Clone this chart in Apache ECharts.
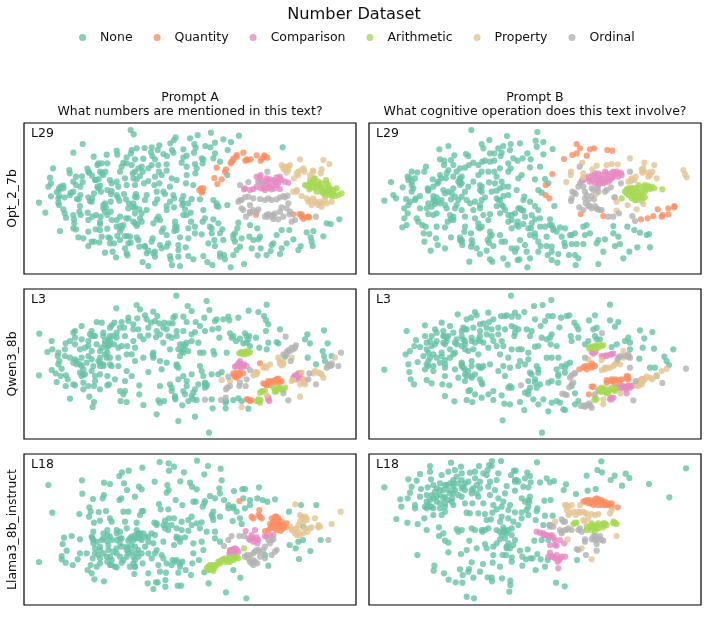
<!DOCTYPE html>
<html>
<head>
<meta charset="utf-8">
<style>html,body{margin:0;padding:0;background:#fff}#chart{width:708px;height:637px}</style>
<script src="https://cdn.jsdelivr.net/npm/echarts@6/dist/echarts.min.js"></script>
</head>
<body>
<div id="chart"></div>
<script>
// Number-dataset embeddings: one scatter panel per model (row) and prompt (column).
const categories = ['None','Quantity','Comparison','Arithmetic','Property','Ordinal'];
const palette = ['#66c2a5','#fc8d62','#e78ac3','#a6d854','#e5c494','#b3b3b3'];
const rowNames = ['Opt_2_7b','Qwen3_8b','Llama3_8b_instruct'];
const layerNames = ['L29','L3','L18'];
const columnTitles = ['Prompt A\nWhat numbers are mentioned in this text?','Prompt B\nWhat cognitive operation does this text involve?'];

// Opt_2_7b, Prompt A
const optANone=[[332,30],[341,43],[188,72],[467,52],[510,55],[533,45],[573,38],[657,47],[160,98],[610,58],[633,66],[585,68],[523,72],[556,78],[571,82],[788,82],[290,92],[335,90],[292,104],[221,110],[333,100],[320,112],[57,248],[76,278],[99,145],[90,173],[85,200],[93,190],[93,229],[110,216],[117,205],[122,200],[130,197],[118,228],[134,232],[115,248],[117,255],[130,268],[134,280],[138,293],[120,333],[148,150],[149,160],[150,225],[153,218],[168,170],[160,185],[168,195],[186,169],[188,186],[202,146],[207,158],[216,167],[181,200],[181,225],[171,237],[176,238],[205,232],[210,243],[180,258],[178,275],[182,285],[160,285],[162,298],[163,310],[160,325],[168,328],[205,300],[203,278],[217,290],[228,285],[242,290],[240,306],[240,313],[205,335],[227,328],[240,330],[262,326],[228,180],[236,177],[240,197],[235,205],[243,215],[232,200],[222,220],[217,235],[215,245],[255,250],[250,265],[258,262],[255,275],[272,275],[275,213],[273,222],[290,225],[293,232],[298,242],[312,222],[318,238],[325,265],[318,295],[340,262],[345,280],[345,310],[350,318],[300,318],[305,325],[275,300],[300,335],[260,104],[262,130],[256,155],[245,160],[240,155],[270,180],[275,190],[290,185],[295,200],[300,155],[305,140],[320,130],[310,128],[335,135],[338,160],[340,175],[345,155],[315,175],[320,195],[345,195],[348,222],[350,232],[327,250],[340,250],[345,262],[358,268],[365,280],[360,295],[352,312],[325,295],[290,320],[245,350],[265,352],[215,365],[205,378],[222,365],[238,367],[255,398],[270,370],[282,370],[278,395],[288,412],[292,348],[315,348],[322,348],[350,352],[355,360],[315,385],[325,370],[332,368],[322,406],[358,380],[375,378],[385,392],[395,365],[398,355],[380,400],[405,395],[405,410],[368,426],[385,438],[445,370],[450,408],[452,418],[456,435],[480,438],[475,375],[475,390],[497,382],[505,408],[520,418],[550,408],[562,426],[577,435],[565,370],[583,360],[585,378],[600,400],[612,405],[615,418],[632,442],[640,355],[645,365],[650,390],[672,432],[665,355],[688,350],[690,315],[712,325],[720,350],[715,358],[722,385],[713,406],[740,405],[752,393],[760,370],[755,375],[770,345],[785,330],[808,330],[820,358],[800,370],[785,385],[780,402],[835,390],[842,378],[860,337],[880,333],[872,352],[875,365],[878,378],[910,349],[920,310],[932,312],[958,298],[645,340],[652,325],[655,308],[350,85],[374,84],[395,82],[393,97],[413,90],[418,76],[451,70],[462,60],[456,90],[430,102],[441,108],[460,98],[397,108],[405,118],[370,116],[345,118],[365,140],[368,155],[355,145],[385,145],[395,135],[415,135],[440,133],[440,152],[425,165],[405,170],[417,155],[385,183],[372,190],[403,195],[418,190],[350,178],[360,168],[455,175],[470,180],[450,200],[430,215],[435,222],[410,215],[412,238],[405,250],[380,270],[375,240],[460,225],[463,235],[450,245],[440,258],[462,262],[415,290],[410,298],[400,310],[430,325],[425,335],[465,305],[470,320],[463,333],[440,345],[490,228],[485,240],[487,255],[495,268],[515,237],[540,238],[550,270],[500,285],[490,285],[512,278],[513,305],[505,325],[525,340],[545,343],[570,320],[580,298],[595,310],[607,328],[575,325],[610,360],[480,352],[505,355],[500,140],[485,128],[490,112],[500,107],[522,98],[525,132],[530,145],[526,160],[500,165],[498,190],[520,195],[545,115],[548,130],[550,118],[580,115],[585,100],[600,125],[623,90],[622,165],[590,250],[595,260],[622,255],[580,240],[590,258],[490,88],[527,83],[130,205],[118,210],[115,235],[160,215],[205,155],[235,130],[232,135],[245,130],[225,180],[250,165],[262,210],[272,245],[250,255],[262,285],[290,300],[300,290],[310,315],[340,305],[365,305],[380,225],[345,230],[440,270],[420,300],[465,320],[470,330],[505,250],[490,250],[525,320],[548,305],[555,295],[575,340],[640,345],[600,340],[660,380],[700,360],[695,385],[640,405],[600,410],[425,385],[400,400],[475,410],[420,375],[375,380],[330,350],[270,355],[190,355],[175,352],[300,360],[320,400],[440,380]];
const optAQuantity=[[543,205],[548,213],[538,210],[550,205],[545,218],[583,174],[605,178],[592,192],[590,143],[618,148],[615,155],[632,130],[640,116],[650,110],[670,98],[676,122],[684,120],[692,118],[710,106],[722,122],[733,106],[742,113],[727,115],[820,283],[838,282],[845,290],[850,296],[865,290],[868,292],[708,284],[640,120],[635,125],[650,105],[680,118],[735,110],[855,292],[845,283]];
const optAComparison=[[710,170],[722,165],[725,180],[742,182],[750,178],[770,172],[778,178],[765,185],[805,188],[722,205],[700,207],[672,208],[735,195],[745,205],[755,208],[780,207],[735,210],[760,195],[690,210],[775,190],[715,185],[730,190],[745,190],[760,180],[770,195],[750,200],[740,175],[785,180],[795,185],[675,205],[710,200],[730,205],[765,205],[720,172],[780,170]];
const optAArithmetic=[[855,195],[870,180],[885,175],[880,190],[872,203],[868,208],[890,215],[905,190],[918,180],[925,195],[915,205],[910,220],[925,225],[935,218],[950,205],[965,220],[945,228],[930,212],[900,200],[860,197],[880,185],[920,215],[865,195],[875,195],[885,205],[895,185],[895,195],[905,205],[920,190],[930,205],[940,210],[955,225],[935,228],[915,228],[880,175],[870,190],[905,215],[925,210],[890,200],[940,220]];
const optAProperty=[[785,135],[795,140],[810,135],[795,150],[800,158],[840,118],[850,145],[830,160],[822,175],[853,155],[878,152],[870,165],[905,148],[902,160],[910,120],[928,132],[820,215],[830,210],[845,228],[865,245],[880,235],[890,250],[905,250],[920,250],[935,245],[875,255],[790,145],[805,150],[835,165],[845,150],[880,155],[830,215],[870,240],[885,245],[900,245],[915,240],[860,235],[895,255],[905,260],[835,155],[805,140]];
const optAOrdinal=[[655,245],[665,240],[660,195],[685,186],[742,155],[722,188],[685,230],[700,235],[720,237],[745,235],[755,240],[780,232],[790,228],[803,227],[805,250],[785,262],[780,275],[810,275],[808,283],[745,290],[740,285],[757,285],[760,297],[775,298],[790,290],[815,305],[825,300],[888,290],[665,265],[690,255],[715,268],[690,280],[678,290],[690,275],[660,240],[675,232],[735,240],[770,238],[795,232],[800,265],[760,290],[735,290],[670,270],[700,270],[710,275],[745,282],[765,280]];

// Opt_2_7b, Prompt B
const optBNone=[[319,30],[426,48],[517,36],[512,62],[535,66],[465,70],[437,72],[373,60],[350,72],[355,85],[250,78],[223,88],[415,78],[400,85],[388,100],[375,100],[410,98],[407,108],[435,90],[487,100],[497,118],[535,103],[515,80],[563,87],[473,115],[458,122],[445,115],[268,106],[225,118],[238,122],[258,120],[303,102],[310,108],[237,135],[265,135],[285,145],[300,143],[312,135],[325,128],[340,135],[352,125],[360,122],[375,125],[388,122],[388,155],[405,145],[430,130],[437,145],[430,155],[460,175],[470,165],[495,142],[525,140],[510,178],[540,177],[520,210],[530,218],[183,140],[178,155],[140,155],[157,157],[128,170],[135,175],[140,185],[78,186],[113,202],[140,195],[145,205],[140,215],[85,225],[93,235],[58,242],[123,237],[135,245],[152,235],[165,228],[188,205],[190,212],[220,185],[228,175],[225,165],[250,150],[245,160],[290,170],[285,180],[290,190],[285,195],[203,178],[218,190],[242,175],[265,205],[260,220],[258,238],[205,228],[208,243],[210,252],[190,250],[130,255],[118,265],[128,280],[118,295],[125,315],[112,322],[155,295],[160,305],[172,315],[182,320],[190,282],[205,285],[215,280],[240,255],[245,265],[265,290],[258,298],[248,305],[240,322],[215,320],[176,340],[193,342],[178,365],[213,355],[218,375],[197,392],[240,385],[258,352],[285,352],[290,365],[292,375],[300,320],[298,335],[318,340],[322,370],[318,380],[335,385],[345,402],[313,425],[365,392],[375,418],[382,425],[428,434],[415,415],[458,420],[463,418],[487,442],[375,335],[380,345],[368,360],[372,368],[385,378],[405,345],[410,365],[420,365],[440,385],[450,395],[465,360],[480,375],[485,395],[495,415],[510,350],[495,345],[520,365],[527,378],[545,378],[545,350],[548,405],[560,380],[560,420],[580,402],[577,428],[600,378],[590,350],[598,368],[612,405],[620,372],[635,372],[630,405],[632,435],[640,415],[655,372],[660,345],[675,340],[700,360],[720,358],[700,432],[715,395],[750,378],[765,372],[760,350],[745,318],[745,340],[787,320],[808,330],[825,338],[845,345],[852,342],[817,382],[855,382],[793,395],[775,415],[655,320],[665,315],[615,345],[630,340],[600,325],[585,322],[565,325],[555,315],[555,298],[568,258],[520,270],[510,258],[495,245],[478,230],[475,240],[465,265],[475,272],[480,290],[510,298],[525,295],[500,285],[490,325],[475,312],[460,320],[440,325],[430,305],[440,285],[450,280],[420,270],[405,280],[395,258],[400,240],[415,228],[430,225],[395,212],[405,205],[380,215],[372,187],[390,190],[350,200],[345,210],[360,232],[350,240],[345,255],[330,245],[315,250],[325,270],[345,265],[355,285],[375,282],[330,295],[350,320],[340,322],[370,300],[300,290],[290,270],[275,255],[255,285],[215,232],[305,240],[310,200],[300,215],[325,185],[340,165],[350,155],[370,155],[395,170],[410,185],[430,200],[455,210],[550,190],[560,315],[575,335],[540,320],[525,320],[498,325],[510,340],[458,305],[415,200],[290,230],[280,240],[270,265],[240,220],[230,240],[150,240],[165,265],[185,265],[200,260],[235,210],[205,200],[190,210],[265,170],[275,155],[130,180],[150,175],[205,240],[215,245],[250,215],[270,230],[285,185],[285,175],[280,185],[395,235],[415,260],[470,270],[455,315],[375,350],[290,360],[285,360],[405,240],[410,255],[440,300],[430,285],[345,195],[350,215],[265,300],[225,250],[340,310],[345,325],[460,265],[500,310],[565,330],[620,345],[695,370],[560,395],[520,395],[455,385],[320,360]];
const optBQuantity=[[635,72],[645,85],[622,105],[635,100],[665,107],[675,88],[688,85],[727,90],[742,92],[597,117],[562,162],[542,195],[542,225],[553,235],[647,282],[715,288],[828,298],[848,295],[865,288],[878,268],[890,290],[893,285],[910,283],[910,265],[928,258],[928,262]];
const optBComparison=[[650,182],[665,175],[682,165],[690,172],[700,160],[712,175],[720,155],[730,168],[745,155],[755,155],[770,165],[690,190],[705,190],[720,185],[735,180],[745,170],[760,160],[655,180],[670,170],[680,180],[695,180],[700,175],[710,165],[715,190],[725,175],[730,185],[740,160],[750,165],[760,170],[725,160],[690,160],[705,180],[675,185],[740,175],[768,158],[700,195]];
const optBArithmetic=[[770,235],[780,215],[790,205],[800,203],[810,205],[820,195],[835,200],[850,198],[855,207],[868,205],[892,208],[790,225],[800,235],[815,240],[830,235],[840,232],[840,215],[825,220],[805,220],[785,220],[795,215],[800,228],[810,230],[820,228],[830,225],[835,210],[845,205],[820,205],[815,215],[785,208],[860,200],[830,242],[800,210],[810,240],[840,195]];
const optBProperty=[[652,128],[618,155],[617,165],[604,186],[655,160],[655,172],[682,148],[695,137],[725,135],[740,132],[758,133],[795,115],[838,128],[868,135],[830,148],[832,158],[850,158],[862,155],[875,175],[850,170],[800,175],[790,185],[808,180],[955,150],[960,162],[965,172],[693,222],[750,232],[755,245],[788,255],[815,268],[835,252],[755,272],[798,183],[812,170],[855,165],[835,155],[835,145]];
const optBOrdinal=[[644,140],[795,155],[768,190],[645,190],[655,200],[660,215],[622,215],[632,222],[618,243],[660,235],[662,250],[643,262],[680,205],[698,205],[680,228],[687,238],[720,215],[738,202],[748,232],[670,258],[690,258],[698,268],[710,270],[730,290],[745,290],[762,280],[802,288],[810,303],[655,270],[628,218],[640,200],[665,225],[670,240],[675,258],[680,265],[695,265],[705,270],[685,210],[700,215],[725,210],[620,235]];

// Qwen3_8b, Prompt A
const qwenANone=[[469,29],[560,45],[740,56],[503,60],[515,75],[568,72],[350,57],[360,70],[289,67],[400,77],[686,74],[715,78],[732,90],[738,103],[745,115],[375,88],[412,90],[405,105],[393,110],[380,100],[352,97],[325,95],[325,105],[305,108],[283,110],[230,108],[245,110],[185,120],[165,135],[160,140],[215,135],[270,125],[275,118],[312,125],[340,115],[355,130],[385,125],[418,112],[433,110],[447,112],[460,95],[465,90],[490,92],[500,108],[527,108],[553,95],[590,100],[610,100],[625,92],[628,103],[655,95],[585,105],[577,130],[595,127],[540,120],[490,135],[470,135],[458,112],[408,153],[420,145],[445,150],[455,155],[470,150],[515,145],[525,138],[555,135],[630,142],[635,155],[660,158],[675,142],[688,150],[738,135],[708,155],[770,168],[780,130],[775,172],[862,145],[855,160],[870,172],[912,133],[923,172],[598,155],[648,165],[670,172],[680,170],[690,180],[718,185],[745,170],[740,190],[908,195],[912,210],[915,225],[935,210],[863,215],[888,235],[795,212],[58,143],[95,165],[137,172],[82,198],[97,190],[115,200],[113,210],[118,225],[115,235],[125,248],[95,252],[107,262],[57,268],[122,270],[138,268],[143,280],[110,288],[137,300],[160,295],[165,298],[190,290],[205,300],[222,300],[240,310],[262,298],[267,295],[190,310],[150,338],[208,332],[222,348],[218,363],[302,345],[320,348],[300,315],[315,315],[310,325],[358,325],[358,298],[370,357],[415,343],[420,350],[432,345],[410,385],[475,405],[525,392],[567,440],[466,340],[487,358],[505,345],[520,320],[525,310],[515,330],[490,315],[495,325],[450,295],[455,305],[455,315],[420,300],[385,258],[370,215],[345,225],[335,205],[322,180],[305,180],[295,185],[282,175],[270,165],[255,175],[262,200],[270,215],[295,215],[320,205],[345,185],[370,160],[360,150],[340,165],[315,150],[290,140],[270,150],[250,140],[222,150],[205,165],[185,160],[165,155],[150,165],[165,175],[135,190],[135,210],[150,215],[165,220],[170,235],[185,240],[200,230],[215,220],[235,225],[250,235],[275,240],[295,240],[320,255],[335,270],[315,285],[285,280],[262,270],[225,270],[215,255],[190,265],[225,285],[180,190],[195,185],[215,195],[230,175],[398,205],[400,215],[420,225],[425,250],[440,230],[470,235],[475,245],[490,270],[500,285],[515,265],[540,240],[545,255],[550,270],[555,290],[560,300],[575,265],[595,265],[605,258],[535,295],[555,305],[480,175],[490,175],[500,170],[515,165],[535,170],[540,200],[550,200],[580,195],[583,205],[620,200],[430,170],[450,190],[475,190],[490,200],[480,210],[505,195],[475,280],[575,340],[578,367],[617,367],[617,350],[640,342],[655,337],[665,345],[685,368],[618,345],[530,342],[410,135],[430,125],[440,130],[385,148],[340,130],[300,125],[255,165],[210,145],[250,150],[265,180],[240,195],[205,210],[220,240],[240,240],[260,215],[290,155],[215,150],[205,180],[190,250],[180,235],[170,225],[240,215],[255,205],[270,175],[260,185],[265,160],[280,150],[245,185],[225,150],[160,230],[185,215],[195,265],[240,230],[250,240],[240,265],[270,235],[400,200],[400,210],[470,240],[490,190],[495,180],[485,195],[500,300],[555,295],[560,295],[465,330],[465,335],[520,340],[640,150],[680,150],[685,160],[180,260],[185,270]];
const qwenAQuantity=[[720,232],[640,262],[650,260],[660,258],[670,262],[645,272],[655,270],[735,295],[745,290],[755,285],[765,282],[775,278],[785,285],[750,297],[770,288],[685,340],[695,342],[840,262],[642,268],[650,275],[660,265],[730,292],[740,298],[760,290],[770,280],[780,290],[745,285],[690,345],[680,340],[655,265]];
const qwenAComparison=[[660,225],[665,235],[650,240],[670,240],[680,240],[645,242],[825,268],[835,262],[830,280],[820,275],[840,272],[745,335],[748,345],[845,278],[655,232],[665,245],[672,235],[660,240],[825,275],[832,272],[835,268],[745,340]];
const qwenAArithmetic=[[662,200],[672,200],[682,198],[690,198],[668,205],[760,305],[770,315],[780,307],[795,305],[720,320],[735,315],[715,345],[720,350],[710,345],[770,310],[665,198],[675,205],[685,202],[680,195],[658,202],[765,312],[775,305],[785,310],[790,312],[725,317],[715,340],[722,342],[728,315],[765,318]];
const qwenAProperty=[[605,282],[630,285],[735,240],[750,235],[705,258],[710,265],[700,268],[775,215],[780,225],[790,235],[815,215],[895,260],[880,262],[905,265],[910,275],[945,215],[850,290],[855,295],[815,285],[845,260],[840,332],[665,363],[740,328],[885,255],[855,285],[850,280],[840,295],[900,262],[780,232],[785,238],[790,228],[820,282],[740,245],[730,245],[712,258]];
const qwenAOrdinal=[[797,152],[820,190],[810,195],[828,178],[800,198],[790,205],[812,225],[690,252],[622,305],[630,300],[625,272],[680,280],[660,290],[658,300],[677,300],[555,341],[603,342],[617,335],[805,343],[790,322],[868,262],[865,280],[888,295],[925,235],[935,232],[930,240],[955,240],[963,200],[920,245],[815,185],[805,192],[825,185],[800,205],[935,238],[925,240],[618,310]];

// Qwen3_8b, Prompt B
const qwenBNone=[[438,29],[559,42],[507,60],[533,57],[735,56],[370,80],[330,78],[278,85],[180,118],[125,135],[230,110],[255,120],[305,100],[318,95],[335,88],[345,115],[355,112],[372,108],[385,100],[408,90],[420,90],[425,88],[450,80],[478,78],[440,92],[460,92],[510,100],[540,105],[550,90],[563,90],[588,95],[605,90],[613,88],[690,88],[672,103],[735,103],[760,108],[750,122],[628,110],[635,120],[640,130],[583,124],[527,120],[485,130],[500,135],[460,130],[450,140],[448,150],[420,130],[400,125],[380,130],[365,125],[345,135],[325,125],[295,125],[290,135],[265,140],[250,150],[210,130],[215,140],[200,150],[180,150],[153,162],[148,180],[135,195],[122,205],[165,183],[185,170],[200,180],[215,165],[238,150],[245,165],[275,160],[295,160],[300,175],[320,155],[340,160],[355,170],[385,165],[410,165],[415,180],[440,190],[470,190],[510,182],[520,180],[557,175],[575,180],[617,150],[620,165],[640,155],[660,175],[685,130],[695,125],[695,160],[705,160],[740,183],[755,175],[780,165],[790,155],[795,170],[795,190],[825,133],[862,138],[838,157],[833,185],[867,188],[925,190],[898,212],[905,225],[912,237],[823,218],[855,245],[870,245],[875,270],[58,251],[130,235],[133,258],[137,280],[147,295],[158,228],[175,210],[185,235],[190,225],[180,250],[205,240],[205,255],[185,282],[200,292],[232,295],[253,298],[240,222],[230,200],[255,215],[270,200],[290,230],[295,245],[300,265],[320,275],[345,280],[352,295],[310,315],[315,312],[330,325],[305,342],[322,348],[350,335],[370,325],[240,330],[268,346],[385,315],[385,342],[410,328],[418,353],[435,355],[413,403],[531,440],[478,372],[550,376],[465,348],[480,320],[490,325],[505,340],[520,355],[535,340],[560,350],[575,345],[585,350],[595,370],[600,372],[630,322],[640,345],[630,355],[525,295],[515,305],[495,305],[490,285],[430,305],[440,305],[420,270],[400,255],[415,240],[435,245],[460,240],[465,225],[490,220],[495,260],[500,265],[510,280],[520,260],[550,290],[560,285],[580,270],[590,240],[605,235],[615,230],[575,250],[580,215],[545,215],[560,215],[515,240],[490,200],[480,235],[355,240],[345,245],[350,290],[330,265],[310,255],[290,235],[270,250],[240,245],[215,215],[205,205],[225,230],[255,190],[275,175],[325,190],[340,205],[370,185],[395,180],[405,205],[375,235],[320,225],[310,195],[265,205],[190,200],[240,270],[280,275],[300,285],[460,190],[430,215],[530,155],[545,160],[560,145],[495,150],[440,120],[400,145],[345,150],[305,130],[235,135],[240,175],[185,190],[210,175],[620,300],[600,260],[580,290],[690,150],[670,165],[230,210],[240,235],[195,215],[190,240],[290,240],[300,250],[305,270],[320,270],[345,165],[300,165],[270,170],[300,190],[290,150],[245,155],[235,170],[235,150],[195,165],[320,165],[330,170],[365,145],[380,150],[450,125],[555,155],[600,245],[580,265],[520,250],[510,290],[490,315],[435,300],[300,130],[290,180],[340,240],[320,240],[350,245]];
const qwenBQuantity=[[643,250],[660,240],[665,250],[680,232],[690,240],[680,245],[725,282],[735,285],[750,280],[765,285],[785,270],[790,280],[830,280],[685,302],[672,325],[790,300],[750,295],[655,245],[670,240],[685,238],[745,285],[770,280],[760,282],[785,278],[725,290],[740,280],[790,272],[680,302]];
const qwenBComparison=[[680,198],[692,198],[710,210],[722,208],[735,206],[740,204],[760,305],[775,300],[790,298],[800,300],[770,308],[785,322],[737,335],[745,335],[685,203],[715,212],[725,210],[745,203],[765,300],[780,305],[795,305],[770,302],[785,310],[805,298],[740,340],[735,340]];
const qwenBArithmetic=[[675,183],[690,180],[705,178],[715,177],[682,182],[700,310],[715,315],[725,310],[740,305],[750,315],[710,305],[690,335],[695,340],[730,320],[680,185],[695,178],[710,180],[700,185],[672,187],[690,185],[700,315],[708,318],[720,318],[735,312],[745,310],[752,308],[715,308],[725,322],[688,342]];
const qwenBProperty=[[670,220],[710,252],[720,250],[735,245],[750,235],[765,235],[775,195],[775,215],[710,222],[815,290],[825,295],[835,285],[845,272],[862,280],[875,268],[905,248],[715,340],[715,355],[767,322],[820,300],[835,278],[890,255],[725,245],[745,240],[755,230],[820,285],[815,298],[830,290],[840,280],[855,275],[830,295],[720,245]];
const qwenBOrdinal=[[711,141],[660,215],[758,220],[765,210],[790,205],[795,215],[795,245],[780,210],[630,262],[615,275],[625,290],[613,304],[592,323],[605,327],[468,298],[648,360],[660,362],[672,352],[680,365],[665,358],[805,343],[892,291],[963,248],[812,285],[690,325],[620,268],[628,262],[620,295],[655,358],[675,358],[790,212],[760,215],[600,325]];

// Llama3_8b_instruct, Prompt A
const llamaANone=[[419,36],[446,40],[462,50],[447,62],[367,53],[531,32],[564,48],[602,56],[492,67],[553,73],[326,62],[306,67],[298,78],[85,105],[186,91],[252,98],[270,102],[312,100],[404,95],[481,94],[510,98],[516,110],[605,91],[598,115],[357,110],[365,118],[321,120],[345,140],[187,131],[252,135],[248,145],[219,147],[298,150],[304,145],[442,105],[440,128],[446,120],[530,118],[600,130],[570,138],[585,145],[612,150],[642,123],[667,117],[675,117],[717,112],[670,145],[625,165],[625,175],[640,175],[650,185],[690,150],[690,165],[675,175],[712,145],[728,150],[742,155],[765,148],[520,155],[527,155],[555,153],[548,170],[553,160],[467,150],[487,165],[417,162],[422,178],[445,178],[97,188],[178,192],[208,172],[212,185],[207,200],[236,186],[258,183],[310,185],[325,185],[365,183],[370,183],[360,195],[580,185],[578,200],[600,200],[580,210],[515,200],[505,210],[638,213],[660,205],[665,222],[240,212],[222,218],[270,205],[275,215],[315,215],[320,235],[350,218],[403,218],[410,220],[435,212],[447,205],[462,205],[485,215],[515,225],[530,220],[545,217],[540,235],[560,245],[585,245],[585,265],[600,275],[220,245],[262,240],[250,250],[290,240],[300,245],[350,240],[355,250],[375,260],[395,250],[405,255],[435,235],[445,240],[470,235],[485,240],[505,242],[132,263],[155,258],[180,268],[128,282],[140,302],[217,265],[220,280],[225,295],[240,290],[260,272],[265,285],[290,270],[305,265],[325,272],[345,255],[365,270],[385,275],[430,275],[462,285],[470,260],[480,275],[495,262],[520,280],[545,275],[550,300],[520,310],[410,300],[405,310],[425,315],[385,310],[345,290],[320,300],[290,295],[200,310],[180,310],[173,328],[125,318],[125,328],[137,338],[158,345],[57,336],[218,325],[240,325],[260,320],[275,330],[300,320],[325,310],[365,310],[395,325],[430,325],[458,330],[470,330],[487,335],[517,340],[537,330],[212,345],[203,360],[230,350],[240,340],[270,345],[290,352],[305,338],[330,350],[345,350],[368,340],[415,345],[440,340],[455,345],[480,350],[497,360],[215,370],[223,388],[252,394],[343,372],[385,370],[420,365],[438,368],[475,368],[513,375],[553,367],[383,400],[408,397],[413,397],[436,390],[436,410],[400,417],[473,407],[483,407],[566,400],[618,427],[679,445],[661,383],[640,360],[745,347],[735,315],[837,327],[871,303],[827,295],[809,285],[835,275],[849,270],[902,270],[850,230],[807,185],[843,165],[889,165],[250,310],[305,290],[335,285],[355,300],[340,320],[280,305],[265,300],[225,310],[245,270],[270,260],[300,280],[330,265],[360,260],[350,265],[375,290],[400,280],[345,330],[310,330],[455,225],[430,225],[215,260],[220,270],[230,275],[250,265],[262,255],[275,270],[290,250],[300,265],[320,290],[335,260],[340,270],[355,255],[360,250],[370,250],[345,265],[325,295],[335,305],[320,320],[350,310],[355,320],[270,320],[262,335],[275,345],[285,350],[340,340],[290,310],[240,300],[235,315],[345,350],[360,265],[385,260],[410,225],[440,225],[470,265],[480,265],[465,335],[480,340],[640,170],[575,195]];
const llamaAQuantity=[[658,153],[718,180],[695,200],[720,200],[725,205],[770,200],[775,210],[760,215],[750,222],[765,235],[735,243],[790,225],[782,242],[752,235],[770,225],[790,235],[800,220],[755,205],[775,205],[785,215],[765,210],[755,230],[770,240],[785,232],[800,230],[745,240],[775,220],[780,225],[765,200],[760,222],[700,205],[715,195]];
const llamaAComparison=[[677,243],[705,240],[685,265],[695,265],[710,262],[712,280],[735,258],[750,255],[630,305],[640,297],[655,305],[628,312],[645,310],[700,275],[690,270],[700,265],[710,270],[695,255],[715,270],[740,260],[760,255],[635,300],[650,298],[640,315],[630,300],[645,295]];
const llamaAArithmetic=[[562,360],[570,355],[578,350],[590,345],[605,330],[615,335],[630,325],[640,330],[650,320],[672,295],[580,362],[570,345],[600,340],[565,350],[575,358],[585,352],[570,360],[575,345],[595,335],[610,328],[620,330],[625,335],[635,320],[645,325],[655,325],[600,335],[585,345],[560,355],[630,335],[615,325]];
const llamaAProperty=[[826,163],[962,185],[840,195],[855,200],[850,215],[835,225],[825,250],[840,255],[810,230],[870,235],[885,205],[895,225],[900,230],[935,222],[848,205],[835,245],[862,245],[820,238],[845,200],[860,210],[840,215],[830,235],[815,240],[850,250],[875,232],[895,232],[855,235],[830,255],[860,205]];
const llamaAOrdinal=[[635,258],[625,270],[658,258],[612,288],[672,258],[760,268],[750,280],[735,290],[770,300],[755,315],[710,300],[690,315],[680,315],[690,335],[700,345],[712,340],[705,305],[720,320],[925,270],[700,310],[685,325],[700,330],[695,340],[705,335],[675,320],[720,305],[730,300],[735,325],[715,300],[765,305],[745,270],[755,270]];

// Llama3_8b_instruct, Prompt B
const llamaBNone=[[381,33],[408,33],[516,37],[709,34],[258,38],[195,48],[288,50],[342,48],[372,45],[380,48],[963,55],[697,60],[711,67],[665,77],[749,77],[782,71],[793,84],[737,90],[852,102],[771,107],[913,142],[165,72],[195,65],[130,88],[155,92],[58,112],[198,88],[230,75],[250,65],[270,60],[290,70],[315,68],[330,65],[355,70],[368,60],[365,75],[400,70],[447,62],[452,62],[438,75],[487,68],[495,78],[480,85],[497,97],[525,97],[545,85],[555,97],[567,93],[603,103],[596,120],[633,132],[668,122],[692,117],[140,110],[168,117],[188,112],[205,105],[225,100],[245,105],[265,90],[275,80],[290,90],[310,95],[330,85],[345,95],[375,95],[395,90],[425,108],[450,90],[460,95],[135,128],[128,145],[106,148],[109,170],[150,165],[165,140],[185,135],[210,125],[225,135],[250,120],[265,110],[295,110],[325,115],[345,115],[370,110],[390,120],[420,130],[450,122],[475,110],[490,112],[495,140],[480,155],[493,155],[185,175],[195,170],[215,155],[235,145],[262,145],[290,140],[320,130],[340,140],[375,135],[400,145],[415,155],[435,165],[470,145],[538,152],[557,150],[517,175],[515,183],[150,175],[180,170],[205,175],[225,175],[240,170],[265,165],[300,160],[322,160],[355,160],[385,165],[410,170],[395,178],[430,180],[450,187],[470,187],[485,180],[490,170],[94,207],[127,218],[158,222],[178,205],[185,240],[205,195],[230,195],[240,185],[305,188],[315,190],[340,190],[360,192],[382,188],[365,210],[378,208],[410,200],[405,215],[430,205],[445,215],[470,205],[490,195],[512,210],[540,197],[563,197],[222,232],[222,258],[235,250],[240,272],[250,278],[275,237],[290,240],[280,245],[320,235],[330,240],[352,245],[360,240],[370,235],[395,240],[415,232],[420,245],[440,235],[460,225],[535,225],[555,225],[405,268],[425,250],[440,255],[450,270],[313,272],[360,282],[335,295],[305,300],[250,307],[288,312],[157,315],[365,295],[385,290],[395,280],[425,290],[435,295],[445,285],[385,315],[413,315],[423,315],[465,302],[488,298],[472,320],[483,328],[497,325],[517,312],[503,325],[440,322],[508,272],[530,270],[550,270],[527,328],[548,330],[636,330],[383,338],[354,342],[320,337],[208,347],[206,362],[237,370],[251,389],[285,358],[312,357],[310,365],[293,375],[272,397],[292,398],[325,383],[345,365],[368,382],[380,383],[381,394],[411,385],[405,350],[472,347],[512,360],[540,350],[436,405],[436,392],[433,425],[305,440],[327,445],[573,398],[599,409],[440,335],[420,265],[430,240],[410,255],[240,105],[255,100],[265,100],[280,100],[300,100],[320,120],[335,105],[290,115],[270,120],[255,130],[235,120],[215,115],[200,135],[195,150],[215,140],[240,140],[265,130],[280,135],[300,120],[185,155],[200,170],[225,160],[250,150],[260,155],[225,120],[205,145],[190,165],[240,160],[450,95],[455,90],[420,240],[415,245],[430,280],[425,295],[405,245],[490,150],[350,240],[335,130]];
const llamaBQuantity=[[660,153],[675,150],[695,145],[705,155],[715,160],[730,160],[740,170],[758,172],[690,160],[668,158],[700,165],[665,150],[680,155],[690,148],[700,148],[710,150],[720,155],[725,165],[735,165],[675,160],[685,165],[695,155],[710,165],[720,165],[740,160],[655,155]];
const llamaBComparison=[[515,245],[535,250],[550,258],[565,262],[570,270],[585,270],[555,285],[575,287],[598,280],[555,308],[565,320],[585,325],[600,320],[578,335],[580,355],[545,255],[525,248],[540,255],[555,260],[570,285],[560,320],[570,325],[575,315],[590,320],[582,330],[550,320],[535,255],[560,255]];
const llamaBArithmetic=[[625,222],[635,218],[665,240],[680,225],[695,225],[710,225],[720,220],[745,215],[755,222],[680,240],[695,235],[630,218],[670,235],[675,230],[685,232],[690,228],[700,235],[700,220],[715,220],[715,232],[725,225],[745,220],[750,218],[690,245],[665,230],[680,220]];
const llamaBProperty=[[605,165],[620,165],[605,180],[615,190],[632,195],[645,188],[660,190],[645,165],[680,192],[700,192],[735,190],[660,215],[570,215],[605,240],[608,268],[650,295],[680,328],[755,258],[590,245],[610,172],[625,185],[640,185],[600,165],[655,185],[665,190],[690,195],[740,180],[610,195],[670,205],[655,210]];
const llamaBOrdinal=[[590,208],[600,215],[553,225],[620,240],[640,240],[650,245],[590,250],[660,268],[685,260],[690,270],[705,258],[715,272],[695,282],[635,297],[695,302],[663,315],[700,265],[595,215],[555,230],[565,230],[610,235],[600,240],[645,235],[585,240],[660,275],[695,270],[690,258],[680,268],[640,300],[710,270]];

const panelData = [
  [optANone,optAQuantity,optAComparison,optAArithmetic,optAProperty,optAOrdinal],
  [optBNone,optBQuantity,optBComparison,optBArithmetic,optBProperty,optBOrdinal],
  [qwenANone,qwenAQuantity,qwenAComparison,qwenAArithmetic,qwenAProperty,qwenAOrdinal],
  [qwenBNone,qwenBQuantity,qwenBComparison,qwenBArithmetic,qwenBProperty,qwenBOrdinal],
  [llamaANone,llamaAQuantity,llamaAComparison,llamaAArithmetic,llamaAProperty,llamaAOrdinal],
  [llamaBNone,llamaBQuantity,llamaBComparison,llamaBArithmetic,llamaBProperty,llamaBOrdinal]
];

// Panel frames in page pixels, and the value range each axis spans.
const colLeft = [24, 369], colWidth = 332;
const rowTop = [123, 289, 454], rowHeight = [151, 150, 151];
const xRange = [12, 1008];
const yRange = [[9,462],[9,459],[12,465]];
const fontFamily = '"DejaVu Sans", sans-serif';

const grid = [], xAxis = [], yAxis = [], series = [], title = [];
title.push({text:'Number Dataset',left:349,top:2,textAlign:'center',
  textStyle:{fontFamily,fontSize:16.2,fontWeight:'normal',color:'#111'}});
columnTitles.forEach((t,c)=>title.push({text:t,left:colLeft[c]+colWidth/2-5,top:86,textAlign:'center',
  textStyle:{fontFamily,fontSize:12.5,lineHeight:14,fontWeight:'normal',color:'#111'}}));

panelData.forEach((groups,i)=>{
  const r = Math.floor(i/2), c = i%2;
  grid.push({left:colLeft[c],top:rowTop[r],width:colWidth,height:rowHeight[r],show:true,
    borderColor:'#000',borderWidth:1.2,backgroundColor:'#fff',containLabel:false});
  xAxis.push({gridIndex:i,type:'value',min:xRange[0],max:xRange[1],
    axisLine:{show:false},axisTick:{show:false},axisLabel:{show:false},splitLine:{show:false}});
  yAxis.push({gridIndex:i,type:'value',inverse:true,min:yRange[r][0],max:yRange[r][1],
    axisLine:{show:false},axisTick:{show:false},axisLabel:{show:false},splitLine:{show:false},
    name:c===0?rowNames[r]:'',nameLocation:'middle',nameRotate:90,nameGap:5,
    nameTextStyle:{fontFamily,fontSize:12.4,color:'#111'}});
  title.push({text:layerNames[r],left:colLeft[c]+2,top:rowTop[r]-1,
    textStyle:{fontFamily,fontSize:12.5,fontWeight:'normal',color:'#111'}});
  groups.forEach((pts,k)=>series.push({type:'scatter',name:categories[k],xAxisIndex:i,yAxisIndex:i,
    data:pts,symbolSize:6.2,z:2+k,itemStyle:{color:palette[k],opacity:0.8}}));
});

const chart = echarts.init(document.getElementById('chart'),null,{renderer:'canvas'});
chart.setOption({
  animation:false,
  backgroundColor:'#fff',
  title,
  grid,xAxis,yAxis,series,
  legend:{data:categories,left:74,top:26,icon:'circle',itemWidth:7,itemHeight:7,itemGap:21,
    selectedMode:false,
    textStyle:{fontFamily,fontSize:12.5,color:'#111',padding:[0,0,0,9]}}
});
</script>
</body>
</html>
